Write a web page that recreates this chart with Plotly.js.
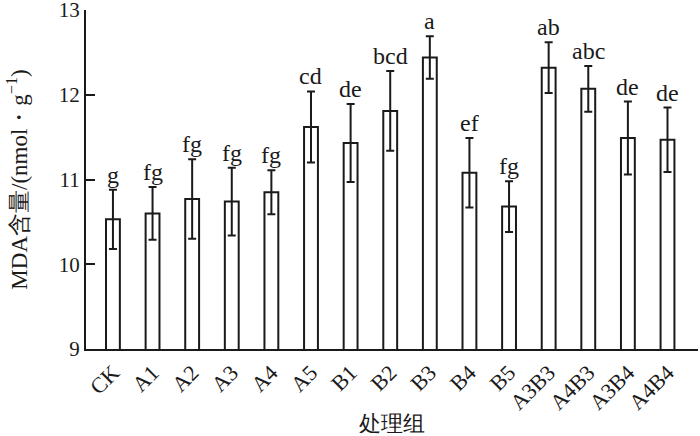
<!DOCTYPE html>
<html>
<head>
<meta charset="utf-8">
<script src="https://cdn.plot.ly/plotly-3.0.1.min.js"></script>
<style>
html,body{margin:0;padding:0;background:#fff;}
#chart{width:700px;height:436px;}
</style>
</head>
<body>
<div id="chart"></div>
<script>
// MDA content per treatment group
const groups = ["CK","A1","A2","A3","A4","A5","B1","B2","B3","B4","B5","A3B3","A4B3","A3B4","A4B4"];
const mda = [10.53,10.60,10.77,10.74,10.85,11.62,11.43,11.81,12.44,11.08,10.68,12.32,12.07,11.49,11.47];
const sd = [0.35,0.31,0.47,0.40,0.26,0.42,0.46,0.47,0.25,0.41,0.30,0.30,0.27,0.43,0.38];
const letters = ["g","fg","fg","fg","fg","cd","de","bcd","a","ef","fg","ab","abc","de","de"];
const yTicks = [9, 10, 11, 12, 13];

const serif = "Liberation Serif";

let trace = {
  type: "bar",
  x: groups,
  y: mda,
  width: 0.35,
  marker: {color: "#ffffff", line: {color: "#1a1a1a", width: 2}},
  error_y: {type: "data", array: sd, visible: true, color: "#1a1a1a", thickness: 2, width: 4},
  hoverinfo: "x+y"
};

let notes = groups.map(function(g, i){
  return {
    x: g, y: mda[i] + sd[i],
    xref: "x", yref: "y",
    text: letters[i],
    showarrow: false,
    yanchor: "bottom",
    yshift: 0,
    font: {family: serif, size: 24, color: "#1a1a1a"}
  };
});

let layout = {
  width: 700, height: 436,
  margin: {l: 86, r: 2, t: 10, b: 87},
  paper_bgcolor: "#fff",
  plot_bgcolor: "#fff",
  showlegend: false,
  font: {family: serif, size: 22, color: "#1a1a1a"},
  xaxis: {
    type: "category",
    range: [-0.68, 14.77],
    showline: true, linecolor: "#1a1a1a", linewidth: 2,
    ticks: "", tickangle: -45,
    showgrid: false, zeroline: false,
    automargin: false,
    tickfont: {family: serif, size: 22},
    title: {text: "处理组", standoff: 3, font: {family: serif, size: 22}}
  },
  yaxis: {
    range: [8.999, 13.001],
    tickvals: yTicks,
    ticktext: yTicks.map(String),
    ticklabeloverflow: "allow",
    showline: true, linecolor: "#1a1a1a", linewidth: 2,
    ticks: "inside", ticklen: 9, tickwidth: 2, tickcolor: "#1a1a1a",
    showgrid: false, zeroline: false,
    automargin: false,
    tickfont: {family: serif, size: 21},
    title: {text: "MDA含量/(nmol・g<sup>−1</sup>)", standoff: 25, font: {family: serif, size: 23}}
  },
  annotations: notes
};

Plotly.newPlot("chart", [trace], layout, {displayModeBar: false, staticPlot: true});
</script>
</body>
</html>
